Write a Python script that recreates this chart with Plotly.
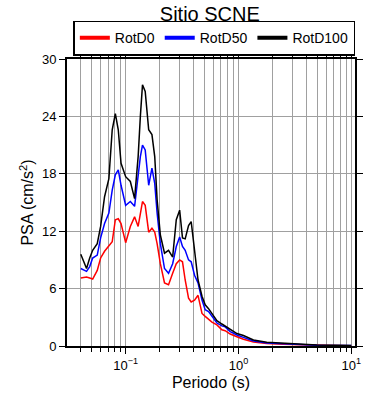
import plotly.graph_objects as go

periods = [0.04, 0.045, 0.048, 0.051, 0.056, 0.06, 0.065, 0.071, 0.076, 0.081,
           0.086, 0.091, 0.1, 0.11, 0.12, 0.129, 0.135, 0.141, 0.149, 0.16,
           0.171, 0.181, 0.19, 0.203, 0.221, 0.24, 0.261, 0.281, 0.301, 0.319,
           0.337, 0.361, 0.381, 0.408, 0.438, 0.475, 0.507, 0.543, 0.582, 0.644,
           0.713, 0.762, 0.845, 0.969, 1.107, 1.358, 1.78, 2.49, 3.52, 4.94, 7.0, 10.0]

rotd0 = [7.1, 7.2, 7.1, 7.0, 7.9, 9.2, 9.9, 10.4, 10.9, 13.2,
         13.3, 12.8, 10.8, 12.5, 13.5, 12.5, 13.9, 15.1, 14.7, 11.9,
         12.3, 11.9, 10.7, 8.6, 6.6, 6.4, 7.6, 8.6, 9.0, 8.8,
         6.9, 5.0, 4.6, 4.8, 5.3, 3.4, 3.1, 2.8, 2.5, 2.2,
         1.7, 1.6, 1.25, 0.97, 0.7, 0.42, 0.26, 0.18, 0.11, 0.07, 0.04, 0.03]

rotd50 = [8.1, 7.8, 8.3, 9.2, 9.5, 11.3, 12.8, 13.9, 16.3, 17.9,
          18.4, 16.8, 14.7, 15.1, 14.6, 17.7, 19.8, 21.0, 20.5, 16.8,
          18.6, 17.0, 13.9, 10.7, 8.1, 7.6, 8.6, 10.4, 11.4, 10.4,
          10.0, 9.0, 8.8, 7.4, 6.6, 4.8, 3.8, 3.6, 3.1, 2.4,
          2.1, 2.0, 1.5, 1.15, 0.9, 0.52, 0.31, 0.22, 0.14, 0.08, 0.05, 0.04]

rotd100 = [9.6, 8.1, 9.2, 10.0, 10.7, 12.5, 15.6, 17.5, 22.6, 24.3,
           22.6, 19.1, 17.7, 17.2, 15.4, 19.8, 24.0, 27.3, 26.6, 22.6,
           22.1, 19.8, 15.3, 11.6, 9.7, 10.0, 9.3, 13.2, 14.2, 11.3,
           11.2, 12.6, 13.0, 10.0, 6.9, 5.2, 4.3, 3.9, 3.4, 2.65,
           2.3, 2.1, 1.7, 1.3, 1.1, 0.63, 0.38, 0.28, 0.18, 0.1, 0.07, 0.05]

series = [("RotD0", rotd0, "#ff0000"), ("RotD50", rotd50, "#0000ff"), ("RotD100", rotd100, "#000000")]

x_major = [0.1, 1, 10]
x_major_text = ["10<sup>\u22121</sup>", "10<sup>0</sup>", "10<sup>1</sup>"]
x_minor = [m * d for d in (0.01, 0.1, 1) for m in range(2, 10)] + [0.03]
y_ticks = [0, 6, 12, 18, 24, 30]

fig = go.Figure()
for name, vals, col in series:
    fig.add_trace(go.Scatter(x=periods, y=vals, mode="lines", name=name,
                             line=dict(color=col, width=1.5), showlegend=False))
for name, vals, col in series:
    fig.add_trace(go.Scatter(x=[None], y=[None], mode="lines", name=name,
                             line=dict(color=col, width=4), showlegend=True))

font = "Liberation Sans, Arial, sans-serif"
fig.update_layout(
    width=390, height=400,
    margin=dict(l=67, r=35, t=59, b=54, autoexpand=False),
    paper_bgcolor="white", plot_bgcolor="white",
    font=dict(family=font, color="black", size=13),
    title=dict(text="Sitio SCNE", x=0.538, xref="container", xanchor="center",
               y=0.966, yanchor="middle", yref="container", font=dict(size=20, family=font)),
    legend=dict(orientation="h", x=0.022, xanchor="left", y=1.012, yanchor="bottom",
                bordercolor="black", borderwidth=1.5, font=dict(size=14),
                itemwidth=30, tracegroupgap=0),
    xaxis=dict(type="log", range=[-1.52, 1.033],
               tickmode="array", tickvals=x_major, ticktext=x_major_text,
               ticks="outside", ticklen=6, tickcolor="black", tickwidth=1,
               showline=True, linecolor="black", linewidth=2, mirror="allticks",
               showgrid=True, gridcolor="#a0a0a0", gridwidth=1,
               tickfont=dict(size=13),
               title=dict(text="Periodo (s)", font=dict(size=16), standoff=5),
               minor=dict(tickmode="array", tickvals=x_minor, ticks="outside", ticklen=4,
                          tickcolor="black", showgrid=True, gridcolor="#a0a0a0", gridwidth=1),
               zeroline=False),
    yaxis=dict(range=[0, 30], tickmode="array", tickvals=y_ticks,
               ticks="outside", ticklen=6, tickcolor="black", tickwidth=1,
               showline=True, linecolor="black", linewidth=2, mirror="allticks",
               showgrid=True, gridcolor="#a0a0a0", gridwidth=1,
               tickfont=dict(size=13),
               title=dict(text="PSA (cm/s<sup>2</sup>)", font=dict(size=16), standoff=4),
               zeroline=False),
)

fig.write_html("out.html", config={"displayModeBar": False},
               post_script="document.body.style.margin='0';")
